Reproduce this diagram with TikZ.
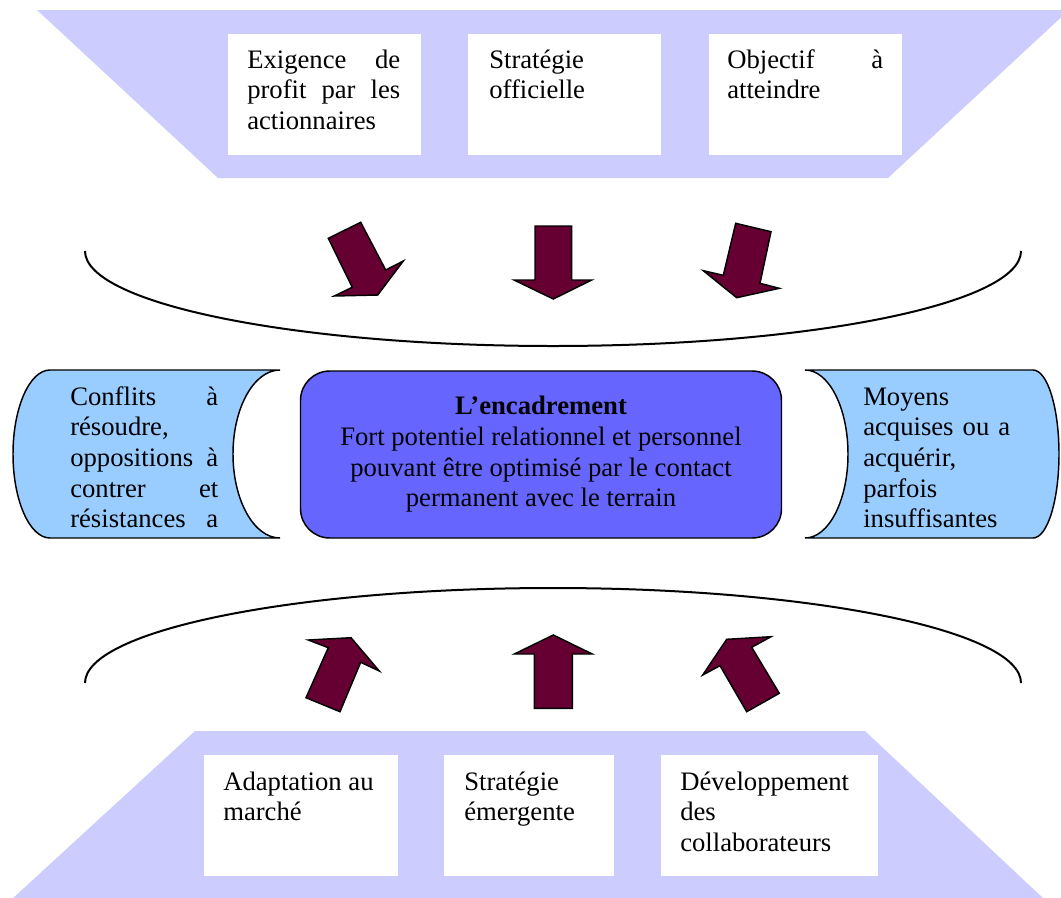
\documentclass[tikz,border=0pt]{standalone}
\usepackage{fontspec}
\setmainfont{Liberation Serif}
\definecolor{trapc}{HTML}{CCCCFF}
\definecolor{scrollc}{HTML}{99CCFF}
\definecolor{midc}{HTML}{6666FF}
\definecolor{arrc}{HTML}{660033}
\tikzset{
  trap/.style={fill=trapc, draw=none},
  wbox/.style={fill=white, draw=none, inner sep=0, minimum height=90.75pt},
  txt/.style={anchor=base west, inner sep=0, font=\fontsize{20}{23}\selectfont},
  scroll/.style={fill=scrollc, draw=black, line width=1.1pt},
  blockarrow/.style={fill=arrc, draw=black, line width=1.1pt, line join=miter},
  arcline/.style={draw=black, line width=1.5pt},
  midbox/.style={fill=midc, draw=black, line width=1.1pt, rounded corners=22pt,
    minimum width=360.75pt, minimum height=125.25pt, align=center,
    font=\fontsize{20}{23}\selectfont}
}
\begin{document}
\begin{tikzpicture}[x=0.75pt,y=-0.75pt]
\useasboundingbox (0,0) rectangle (1061,897);
% top trapezoid
\fill[trap] (37,10) -- (1069,10) -- (888,178) -- (218,178) -- cycle;
\node[wbox, minimum width=144.75pt] (tb1) at (324.5,94.5) {};
\node[wbox, minimum width=144.75pt] (tb2) at (564.5,94.5) {};
\node[wbox, minimum width=144.75pt] (tb3) at (805.5,94.5) {};
\node[txt] (tt1) at (247,68) {\parbox[t]{114.75pt}{Exigence\hfill de\\profit\hfill par\hfill les\\actionnaires}};
\node[txt] (tt2) at (489,68) {\parbox[t]{114.75pt}{Stratégie\\officielle}};
\node[txt] (tt3) at (727,68) {\parbox[t]{117pt}{Objectif\hfill à\\atteindre}};
% top arc
\draw[arcline] (85,251) .. controls (85,303.5) and (294.5,346) .. (553,346)
  .. controls (811.5,346) and (1021,303.5) .. (1021,251);
% top arrows
\draw[blockarrow] (328.3,238.3) -- (360.7,222.3) -- (385.7,270) -- (403.3,261) -- (377.7,295) -- (334.3,296) -- (352.3,287.3) -- cycle;
\draw[blockarrow] (535,226) -- (571.7,226) -- (571.7,280) -- (591.7,280) -- (553.3,299) -- (514,280) -- (535,280) -- cycle;
\draw[blockarrow] (735.7,223.3) -- (771,231.7) -- (760,283.3) -- (779.3,288.3) -- (736.7,297.7) -- (703.3,270.7) -- (723.3,275.3) -- cycle;
% left scroll
\draw[scroll] (50,370) -- (280,370) .. controls (254,370) and (233,407.6) .. (233,454)
  .. controls (233,500.4) and (254,538) .. (280,538) -- (50,538)
  .. controls (29.6,538) and (13,500.4) .. (13,454)
  .. controls (13,407.6) and (29.6,370) .. cycle;
\node[txt] (lt) at (70,405) {\parbox[t]{111pt}{Conflits\hfill à\\résoudre,\\oppositions\hfill à\\contrer\hfill et\\résistances\hfill a}};
% right scroll
\draw[scroll] (805,370) -- (1033,370) .. controls (1047.4,370) and (1059,407.6) .. (1059,454)
  .. controls (1059,500.4) and (1047.4,538) .. (1033,538) -- (805,538)
  .. controls (828.7,538) and (848,500.4) .. (848,454)
  .. controls (848,407.6) and (828.7,370) .. cycle;
\node[txt] (rt) at (863,405) {\parbox[t]{110.25pt}{Moyens\\acquises\hfill ou\hfill a\\acquérir,\\parfois\\insuffisantes}};
% middle box
\node[midbox] (mid) at (541,454.5) {\textbf{L’encadrement}\\Fort potentiel relationnel et personnel\\pouvant être optimisé par le contact\\permanent avec le terrain};
% bottom arc
\draw[arcline] (85,683) .. controls (85,630.5) and (294.5,588) .. (553,588)
  .. controls (811.5,588) and (1021,630.5) .. (1021,683);
% bottom arrows
\draw[blockarrow] (306,697.7) -- (328.3,647.7) -- (308.3,640) -- (351,637.7) -- (379.3,671) -- (360.7,662.3) -- (340,711.7) -- cycle;
\draw[blockarrow] (534.3,708.3) -- (534.3,654) -- (514.3,654) -- (553.3,635) -- (592.3,654) -- (572.3,654) -- (572.3,708.3) -- cycle;
\draw[blockarrow] (746.7,711.7) -- (720,665.7) -- (702.7,675) -- (726.7,639.3) -- (771,636.7) -- (751.7,647.3) -- (779.3,693.3) -- cycle;
% bottom trapezoid
\fill[trap] (195,731) -- (865,731) -- (1044,899) -- (12,899) -- cycle;
\node[wbox, minimum width=145.5pt] (bb1) at (301,815.5) {};
\node[wbox, minimum width=127.5pt] (bb2) at (529,815.5) {};
\node[wbox, minimum width=162.75pt] (bb3) at (769.5,815.5) {};
\node[txt] (bt1) at (223,790) {\parbox[t]{150pt}{Adaptation au\\marché}};
\node[txt] (bt2) at (464,790) {\parbox[t]{130pt}{Stratégie\\émergente}};
\node[txt] (bt3) at (680,790) {\parbox[t]{170pt}{Développement\\des\\collaborateurs}};
\end{tikzpicture}
\end{document}
